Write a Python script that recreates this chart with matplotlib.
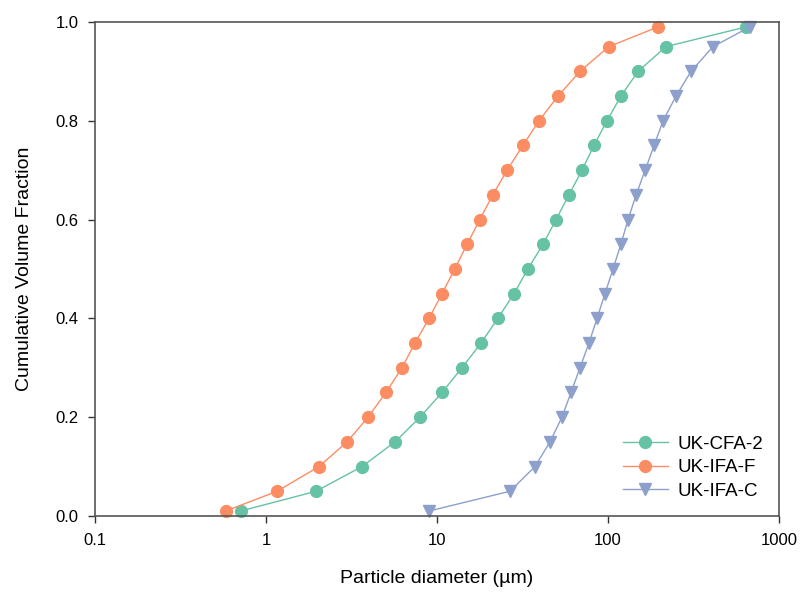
import matplotlib
matplotlib.use("Agg")
import matplotlib.pyplot as plt

plt.rcParams["font.family"] = ["Liberation Sans", "DejaVu Sans"]

frac = [0.01, 0.05, 0.10, 0.15, 0.20, 0.25, 0.30, 0.35, 0.40, 0.45, 0.50,
        0.55, 0.60, 0.65, 0.70, 0.75, 0.80, 0.85, 0.90, 0.95, 0.99]

d_cfa2 = [0.71, 1.96, 3.64, 5.68, 7.96, 10.7, 14.0, 18.1, 22.7, 28.2, 34.0,
          41.7, 49.7, 59.1, 70.5, 82.8, 98.6, 119, 150, 218, 641]
d_ifaf = [0.58, 1.16, 2.04, 2.98, 3.95, 5.03, 6.24, 7.43, 8.98, 10.7, 12.7,
          15.0, 17.8, 21.2, 25.7, 31.8, 39.5, 51.0, 68.6, 101, 196]
d_ifac = [8.98, 26.7, 37.4, 45.8, 53.8, 60.8, 68.6, 77.4, 86.3, 96, 107,
          119, 131, 146, 165, 186, 210, 250, 306, 411, 676]

fig = plt.figure(figsize=(8.01, 5.99), dpi=100)
ax = fig.add_axes([0.1186, 0.1386, 0.8539, 0.8247])

ax.plot(d_cfa2, frac, "-o", color="#66c2a5", lw=1.0, ms=8.5, label="UK-CFA-2", clip_on=False)
ax.plot(d_ifaf, frac, "-o", color="#fc8d62", lw=1.0, ms=8.5, label="UK-IFA-F", clip_on=False)
ax.plot(d_ifac, frac, "-v", color="#8da0cb", lw=1.0, ms=8.5, label="UK-IFA-C", clip_on=False)

ax.set_xscale("log")
ax.set_xlim(0.1, 1000)
ax.set_ylim(0, 1.0)
ax.set_xticks([0.1, 1, 10, 100, 1000])
ax.set_xticklabels(["0.1", "1", "10", "100", "1000"])
ax.minorticks_off()
ax.set_yticks([0.0, 0.2, 0.4, 0.6, 0.8, 1.0])
ax.set_yticklabels(["0.0", "0.2", "0.4", "0.6", "0.8", "1.0"])

for s in ax.spines.values():
    s.set_color("#555555")
    s.set_linewidth(1.2)
ax.tick_params(direction="out", length=5, width=1, color="#333333",
               labelsize=12, pad=7)

ax.set_xlabel("Particle diameter (µm)", fontsize=14, labelpad=16)
ax.set_ylabel("Cumulative Volume Fraction", fontsize=14, labelpad=16)

ax.legend(loc="lower right", frameon=False, fontsize=13.5, handlelength=2.4,
          borderaxespad=0.45, labelspacing=0.35, handletextpad=0.5)

fig.savefig("out.png", dpi=100)
